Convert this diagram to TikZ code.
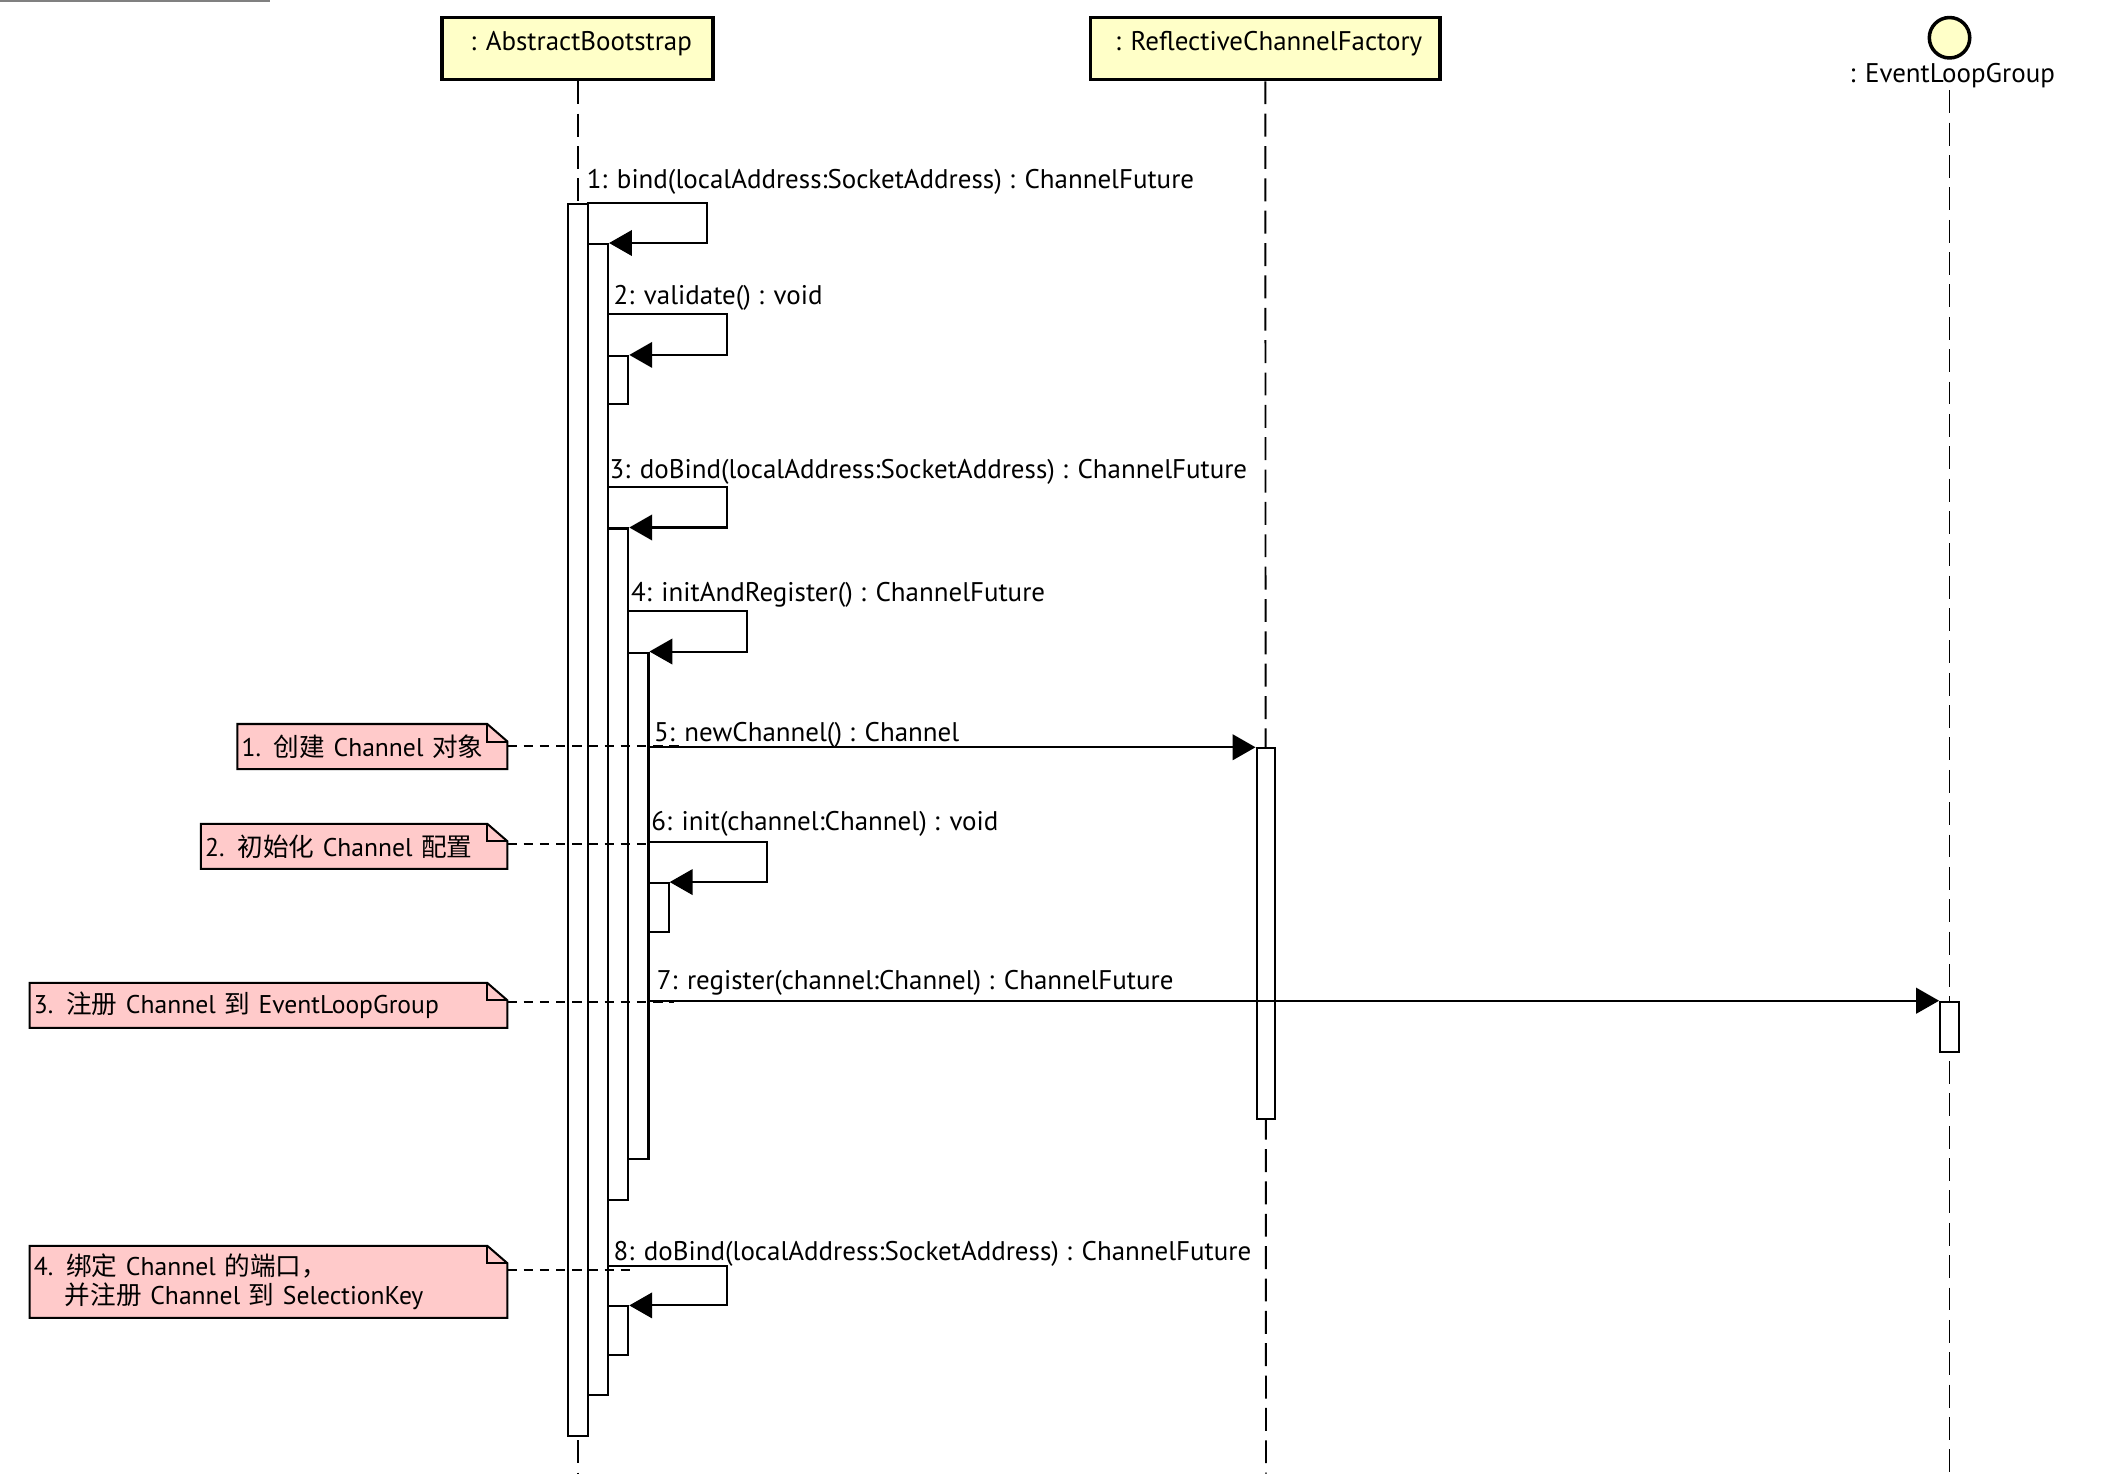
\documentclass[tikz,border=0pt]{standalone}
\usepackage{fontspec}
\setmainfont{PT Sans}
\newfontfamily\cjk{Noto Sans CJK SC}
\usetikzlibrary{arrows.meta,backgrounds}
\definecolor{objfill}{RGB}{255,255,200}
\definecolor{notefill}{RGB}{255,202,202}
\newcommand{\drawnote}[1]{%
  \draw[line width=1.5pt, fill=notefill] (#1.north west) -- ([xshift=-15pt]#1.north east) -- ([yshift=-13pt]#1.north east) -- (#1.south east) -- (#1.south west) -- cycle;
  \draw[line width=1.5pt] ([xshift=-15pt]#1.north east) |- ([yshift=-13pt]#1.north east);}
\begin{document}
\begin{tikzpicture}[x=1pt,y=-1pt,
  font=\fontsize{20}{21}\selectfont,
  obj/.style={draw, line width=2.6pt, fill=objfill, inner sep=0pt},
  lifeline/.style={line width=1.4pt, dash pattern=on 17pt off 7pt},
  act/.style={draw, fill=white, line width=1.5pt, inner sep=0pt, minimum width=15pt},
  msg/.style={line width=1.5pt, -{Triangle[length=17pt,width=19pt]}},
  lbl/.style={anchor=west, inner sep=0pt},
  notebox/.style={inner xsep=3pt, inner ysep=0pt, align=left, anchor=north west, minimum height=33pt, font=\fontsize{19}{21}\selectfont},
  notelink/.style={line width=1.5pt, dash pattern=on 7pt off 5pt},
]
\useasboundingbox (0,0) rectangle (1568,1095);
\draw[gray, line width=1.5pt] (0,0.75) -- (200,0.75);

% objects
\node[obj, minimum width=201pt, minimum height=46pt] (ab) at (428.5,36) {};
\node[inner sep=0pt] (abl) at (431,32.5) {: AbstractBootstrap};
\node[obj, minimum width=259pt, minimum height=46pt] (rcf) at (938.5,36) {};
\node[inner sep=0pt] (rcfl) at (941,32.5) {: ReflectiveChannelFactory};
\node[draw, circle, fill=objfill, line width=2.6pt, minimum size=30pt, inner sep=0pt] (elg) at (1446,28) {};
\node[inner sep=0pt] (elgl) at (1448,56) {: EventLoopGroup};

% lifelines
\coordinate (abend) at (428.5,1093);
\coordinate (rcfend) at (939,1093);
\coordinate (elgend) at (1446,1093);
\coordinate (elgstart) at (1446,67);
\draw[lifeline] (ab.south) -- (abend);
\draw[lifeline] (rcf.south) -- (rcfend);
\draw[lifeline] (elgstart) -- (elgend);

% activation bars
\node[act, minimum height=914pt] (a1) at (428.5,608) {};
\node[act, minimum height=854pt] (a2) at (443.5,608) {};
\node[act, minimum height=36pt] (a3) at (458.5,282) {};
\node[act, minimum height=498pt] (a4) at (458.5,641) {};
\node[act, minimum height=376pt] (a5) at (473.5,672) {};
\node[act, minimum height=36pt] (a6) at (488.5,673) {};
\node[act, minimum height=36pt] (a7) at (458.5,987) {};
\node[act, minimum width=14pt, minimum height=275pt] (r1) at (939,692.5) {};
\node[act, minimum width=14pt, minimum height=37pt] (e1) at (1446,761.5) {};

% messages
\draw[msg] ([yshift=30pt]a2.north west) -- ++(89,0) |- (a2.north east);
\draw[msg] ([yshift=30pt]a3.north west) -- ++(89,0) |- (a3.north east);
\draw[msg] ([yshift=30pt]a4.north west) -- ++(89,0) |- (a4.north east);
\draw[msg] ([yshift=30pt]a5.north west) -- ++(89,0) |- (a5.north east);
\draw[msg] (a5.east |- r1.north west) -- (r1.north west);
\draw[msg] ([yshift=30pt]a6.north west) -- ++(89,0) |- (a6.north east);
\draw[msg] (a5.east |- e1.north west) -- (e1.north west);
\draw[msg] ([yshift=29pt]a7.north west) -- ++(89,0) |- (a7.north east);

% message labels
\node[lbl] (l1) at (435,135) {1: bind(localAddress:SocketAddress) : ChannelFuture};
\node[lbl] (l2) at (455,221) {2: validate() : void};
\node[lbl] (l3) at (452,350) {3: doBind(localAddress:SocketAddress) : ChannelFuture};
\node[lbl] (l4) at (468,441) {4: initAndRegister() : ChannelFuture};
\node[lbl] (l5) at (485,545) {5: newChannel() : Channel};
\node[lbl] (l6) at (483,611) {6: init(channel:Channel) : void};
\node[lbl] (l7) at (487,729) {7: register(channel:Channel) : ChannelFuture};
\node[lbl] (l8) at (455,930) {8: doBind(localAddress:SocketAddress) : ChannelFuture};

% notes
\node[notebox, text width=194pt] (n1) at (176,537) {1. {\cjk 创建} Channel {\cjk 对象}};
\node[notebox, text width=221pt] (n2) at (149,611) {2. {\cjk 初始化} Channel {\cjk 配置}};
\node[notebox, text width=348pt] (n3) at (22,729) {3. {\cjk 注册} Channel {\cjk 到} EventLoopGroup};
\node[notebox, text width=348pt, minimum height=53pt] (n4) at (22,924) {4. {\cjk 绑定} Channel {\cjk 的端口，}\\\hspace*{23pt}{\cjk 并注册} Channel {\cjk 到} SelectionKey};
\begin{scope}[on background layer]
\drawnote{n1}
\drawnote{n2}
\drawnote{n3}
\drawnote{n4}
\end{scope}

% note links
\coordinate (c1) at (505,553);
\coordinate (c2) at (481,626);
\coordinate (c3) at (500,743);
\coordinate (c4) at (470,942);
\draw[notelink] (n1.east |- c1) -- (c1);
\draw[notelink] (n2.east |- c2) -- (c2);
\draw[notelink] (n3.east |- c3) -- (c3);
\draw[notelink] (n4.east |- c4) -- (c4);
\end{tikzpicture}
\end{document}
